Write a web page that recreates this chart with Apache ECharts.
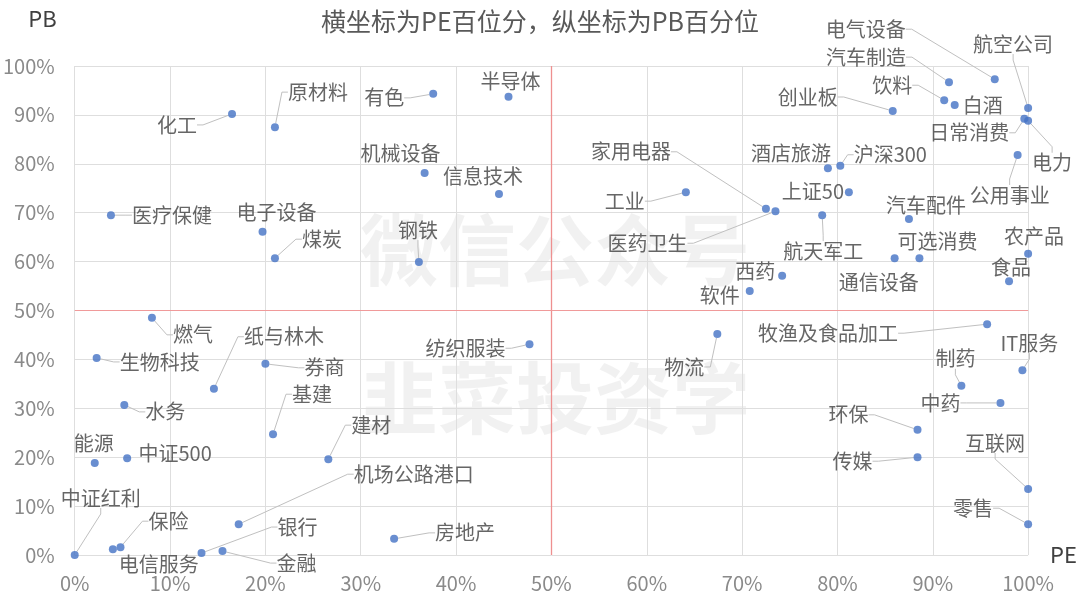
<!DOCTYPE html>
<html>
<head>
<meta charset="utf-8">
<title>PE/PB百分位散点图</title>
<script src="https://cdn.jsdelivr.net/npm/echarts@6/dist/echarts.min.js"></script>
<style>
  html, body { margin: 0; padding: 0; background: #fff; }
  #chart { width: 1080px; height: 600px; }
</style>
</head>
<body>
<div id="chart"></div>
<script>
// 行业 / 指数名称
const names = [
  '化工', '原材料', '有色', '半导体', '机械设备', '信息技术', '医疗保健', '电子设备', '煤炭', '钢铁',
  '燃气', '生物科技', '券商', '纸与林木', '纺织服装', '水务', '基建', '建材', '能源', '中证500',
  '机场公路港口', '房地产', '中证红利', '电信服务', '保险', '银行', '金融',
  '工业', '家用电器', '医药卫生', '酒店旅游', '沪深300', '上证50', '航天军工', '汽车配件', '通信设备',
  '可选消费', '农产品', '食品', '西药', '软件', '牧渔及食品加工', '物流', 'IT服务', '制药', '中药',
  '环保', '传媒', '互联网', '零售', '电气设备', '汽车制造', '饮料', '白酒', '创业板', '航空公司',
  '日常消费', '电力', '公用事业'
]

// 横坐标：PE百分位(%)
const peValues = [
  16.5, 21.0, 37.6, 45.5, 36.7, 44.5, 3.8, 19.7, 21.0, 36.1,
  8.1, 2.3, 20.0, 14.6, 47.7, 5.2, 20.8, 26.6, 2.1, 5.5,
  17.2, 33.5, 0, 4.0, 4.8, 13.3, 15.5,
  64.1, 72.5, 73.5, 79.0, 80.3, 81.2, 78.4, 87.5, 86.0,
  88.6, 100, 98.0, 74.2, 70.8, 95.7, 67.4, 99.4, 93.0, 97.1,
  88.4, 88.4, 100, 100, 96.5, 91.7, 91.2, 92.3, 85.8, 100,
  99.6, 100, 98.9
]

// 纵坐标：PB百分位(%)
const pbValues = [
  90.2, 87.5, 94.3, 93.7, 78.1, 73.8, 69.5, 66.1, 60.7, 59.9,
  48.5, 40.3, 39.1, 34.0, 43.1, 30.7, 24.7, 19.6, 18.8, 19.8,
  6.3, 3.3, 0, 1.2, 1.6, 0.4, 0.8,
  74.2, 70.8, 70.3, 79.1, 79.6, 74.2, 69.5, 68.7, 60.7,
  60.7, 61.6, 56.0, 57.1, 54.0, 47.2, 45.2, 37.8, 34.6, 31.1,
  25.6, 20.0, 13.5, 6.3, 97.3, 96.7, 93.0, 92.0, 90.8, 91.4,
  89.2, 88.8, 81.8
]

// 坐标轴刻度
const axisMin = 0
const axisMax = 100
const axisStep = 10
// 象限分割线
const splitValue = 50

// 标签相对于数据点的偏移（像素）
const labelOffset = {
  '化工': [-55, 11], '原材料': [43, -35], '有色': [-49, 4], '半导体': [2, -15],
  '机械设备': [-24, -20], '信息技术': [-16, -18], '医疗保健': [61, 0], '电子设备': [14, -19],
  '煤炭': [47, -19], '钢铁': [-1, -32], '燃气': [41, 17], '生物科技': [63, 4],
  '券商': [59, 4], '纸与林木': [70, -52], '纺织服装': [-64, 4], '水务': [41, 7],
  '基建': [39, -40], '建材': [43, -34], '能源': [-1, -20], '中证500': [48, -5],
  '机场公路港口': [175, -50], '房地产': [71, -6], '中证红利': [26, -57], '电信服务': [46, 15],
  '保险': [48, -26], '银行': [96, -26], '金融': [74, 12],
  '工业': [-61, 9], '家用电器': [-135, -57], '医药卫生': [-128, 32], '酒店旅游': [-37, -15],
  '沪深300': [50, -11], '上证50': [-36, -1], '航天军工': [1, 36], '汽车配件': [17, -14],
  '通信设备': [-16, 24], '可选消费': [18, -17], '农产品': [6, -17], '食品': [2, -14],
  '西药': [-27, -4], '软件': [-30, 4], '牧渔及食品加工': [-159, 9], '物流': [-33, 33],
  'IT服务': [7, -27], '制药': [-6, -27], '中药': [-60, 0], '环保': [-69, -15],
  '传媒': [-65, 4], '互联网': [-33, -46], '零售': [-55, -16], '电气设备': [-129, -50],
  '汽车制造': [-83, -25], '饮料': [-52, -15], '白酒': [28, 0], '创业板': [-85, -14],
  '航空公司': [-15, -64], '日常消费': [-55, 14], '电力': [24, 42], '公用事业': [-8, 40]
}

// 不画引导线的标签
const noLineNames = [
  '半导体', '机械设备', '信息技术', '电子设备', '能源', '中证500', '电信服务', '酒店旅游',
  '上证50', '汽车配件', '可选消费', '通信设备', '农产品', '食品', '西药', '软件', '白酒'
]

const fontFamily = '"Noto Sans CJK SC", "Noto Sans", sans-serif'
const splitColor = '#f09a9a'

const scatterData = names.map((name, i) => ({
  name: name,
  value: [peValues[i], pbValues[i]],
  labelLine: { show: noLineNames.indexOf(name) < 0 }
}))

const chart = echarts.init(document.getElementById('chart'))

const axisCommon = {
  type: 'value',
  min: axisMin,
  max: axisMax,
  interval: axisStep,
  axisLine: { show: false },
  axisTick: { show: false },
  splitLine: { show: true, lineStyle: { color: '#dedede', width: 1 } },
  axisLabel: {
    formatter: '{value}%',
    color: '#8a8a8a',
    fontSize: 20,
    fontFamily: fontFamily
  }
}

const option = {
  backgroundColor: '#ffffff',
  animation: false,
  title: {
    text: '横坐标为PE百位分，纵坐标为PB百分位',
    left: 'center',
    top: 4,
    textStyle: {
      fontSize: 25,
      fontWeight: 'normal',
      color: '#595959',
      fontFamily: fontFamily
    }
  },
  // 水印
  graphic: [
    {
      type: 'text',
      x: 555,
      y: 250,
      z: -10,
      silent: true,
      style: {
        text: '微信公众号',
        align: 'center',
        verticalAlign: 'middle',
        fill: 'rgba(0,0,0,0.055)',
        font: 'bold 78px "Noto Sans CJK SC"'
      }
    },
    {
      type: 'text',
      x: 555,
      y: 398,
      z: -10,
      silent: true,
      style: {
        text: '韭菜投资学',
        align: 'center',
        verticalAlign: 'middle',
        fill: 'rgba(0,0,0,0.055)',
        font: 'bold 78px "Noto Sans CJK SC"'
      }
    }
  ],
  grid: {
    left: 73,
    right: 48,
    top: 66,
    bottom: 45
  },
  xAxis: Object.assign({}, axisCommon, {
    name: 'PE',
    nameLocation: 'end',
    nameGap: 22,
    nameTextStyle: { fontSize: 22, color: '#404040', fontFamily: fontFamily, padding: [0, 0, 8, 0] },
    axisLabel: Object.assign({}, axisCommon.axisLabel, { margin: 18 })
  }),
  yAxis: Object.assign({}, axisCommon, {
    name: 'PB',
    nameLocation: 'end',
    nameGap: 36,
    nameTextStyle: { fontSize: 22, color: '#404040', fontFamily: fontFamily, align: 'right', padding: [0, 18, 0, 0] },
    axisLabel: Object.assign({}, axisCommon.axisLabel, { margin: 20 })
  }),
  series: [
    {
      type: 'scatter',
      z: 5,
      data: scatterData,
      symbolSize: 8,
      clip: false,
      itemStyle: { color: '#4472c4' },
      label: {
        show: true,
        formatter: '{b}',
        color: '#404040',
        fontSize: 20,
        fontFamily: fontFamily
      },
      labelLine: {
        show: true,
        length2: 6,
        lineStyle: { color: '#c0c0c0', width: 1 }
      },
      // 根据偏移表摆放标签
      labelLayout: function (params) {
        const off = labelOffset[names[params.dataIndex]] || [0, -15]
        const r = params.rect
        return {
          x: r.x + r.width / 2 + off[0],
          y: r.y + r.height / 2 + off[1],
          align: 'center',
          verticalAlign: 'middle'
        }
      },
      emphasis: { disabled: true },
      // 50% 分割线
      markLine: {
        silent: true,
        symbol: 'none',
        label: { show: false },
        lineStyle: { color: splitColor, type: 'solid', width: 1, opacity: 1 },
        data: [
          { xAxis: splitValue, lineStyle: { color: '#ee9090', width: 1.3 } },
          { yAxis: splitValue }
        ]
      }
    }
  ]
}

chart.setOption(option)
</script>
</body>
</html>
